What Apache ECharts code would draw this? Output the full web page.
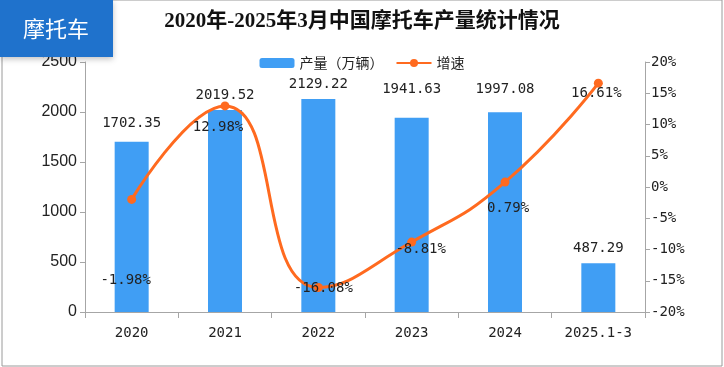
<!DOCTYPE html>
<html><head><meta charset="utf-8">
<script src="https://cdn.jsdelivr.net/npm/echarts@6/dist/echarts.min.js"></script>
<style>html,body{margin:0;padding:0;background:#fff}#c{width:724px;height:367px}</style>
</head><body><div id="c"></div>
<script>
const categories = ['2020','2021','2022','2023','2024','2025.1-3'];
const production = [1702.35, 2019.52, 2129.22, 1941.63, 1997.08, 487.29];
const growth = [-1.98, 12.98, -16.08, -8.81, 0.79, 16.61];
const leftTicks = [0, 500, 1000, 1500, 2000, 2500];
const rightTicks = [-20, -15, -10, -5, 0, 5, 10, 15, 20];

const lineLabelOffsets = [[-6,81],[-7,21],[5,1],[9,7],[3,26],[-2,10]];
const barLabelOffsets = [[0,-3],[0,0],[0,0],[0,-13],[0,-8],[0,0]];
const mono = 'DejaVu Sans Mono';

const chart = echarts.init(document.getElementById('c'));
chart.setOption({
  animation:false,
  backgroundColor:'#fff',
  title:{text:'2020年-2025年3月中国摩托车产量统计情况',left:'center',top:6,
    textStyle:{fontFamily:'Liberation Serif, Noto Sans CJK SC',fontWeight:'bold',fontSize:21,color:'#111'}},
  legend:{top:51,left:'center',itemGap:12,itemWidth:35,itemHeight:10,
    textStyle:{fontFamily:'Noto Sans CJK SC',fontSize:14,color:'#222'},
    data:[{name:'产量（万辆）'},{name:'增速'}]},
  grid:{left:85,right:79,top:62,bottom:55},
  xAxis:{type:'category',data:categories,
    axisLine:{lineStyle:{color:'#a6a6a6'}},
    axisTick:{show:true,length:6,lineStyle:{color:'#a6a6a6'}},
    axisLabel:{fontFamily:mono,fontSize:14,color:'#222',margin:14}},
  yAxis:[
    {type:'value',min:leftTicks[0],max:leftTicks[leftTicks.length-1],interval:500,
     axisLine:{show:true,lineStyle:{color:'#a6a6a6'}},
     axisTick:{show:true,length:5,lineStyle:{color:'#a6a6a6'}},
     splitLine:{show:false},
     axisLabel:{fontFamily:'Liberation Sans',fontSize:16,color:'#222',margin:8,formatter:v=>String(v)}},
    {type:'value',min:rightTicks[0],max:rightTicks[rightTicks.length-1],interval:5,position:'right',
     axisLine:{show:true,lineStyle:{color:'#a6a6a6'}},
     axisTick:{show:true,length:5,lineStyle:{color:'#a6a6a6'}},
     splitLine:{show:false},
     axisLabel:{fontFamily:mono,fontSize:14,color:'#222',margin:6,formatter:v=>v+'%'}}
  ],
  series:[
    {name:'产量（万辆）',type:'bar',barWidth:34,itemStyle:{color:'#409EF4'},
     data:production.map((v,i)=>({value:v,label:{offset:barLabelOffsets[i]}})),
     label:{show:true,position:'top',distance:8,fontFamily:mono,fontSize:14,color:'#222',
       formatter:p=>p.value.toFixed(2)}},
    {name:'增速',type:'line',yAxisIndex:1,smooth:0.5,symbol:'circle',symbolSize:9,
     lineStyle:{color:'#FF6A1F',width:3},itemStyle:{color:'#FF6A1F'},
     data:growth.map((v,i)=>({value:v,label:{offset:lineLabelOffsets[i]}})),
     label:{show:true,position:'inside',fontFamily:mono,fontSize:14,color:'#222',
       formatter:p=>p.value.toFixed(2)+'%'}}
  ],
  graphic:[
    {type:'rect',shape:{x:2,y:0,width:720,height:366},style:{fill:'none',stroke:'#9a9a9a',lineWidth:1},z:-1},
    {type:'rect',shape:{x:0,y:0,width:113,height:57},style:{fill:'#1F72CC',shadowBlur:6,shadowColor:'rgba(0,0,0,0.25)',shadowOffsetY:2},z:10},
    {type:'text',x:56,y:29,style:{text:'摩托车',fill:'#fff',font:'22px "Noto Sans CJK SC"',textAlign:'center',textVerticalAlign:'middle'},z:11}
  ]
});
</script></body></html>
